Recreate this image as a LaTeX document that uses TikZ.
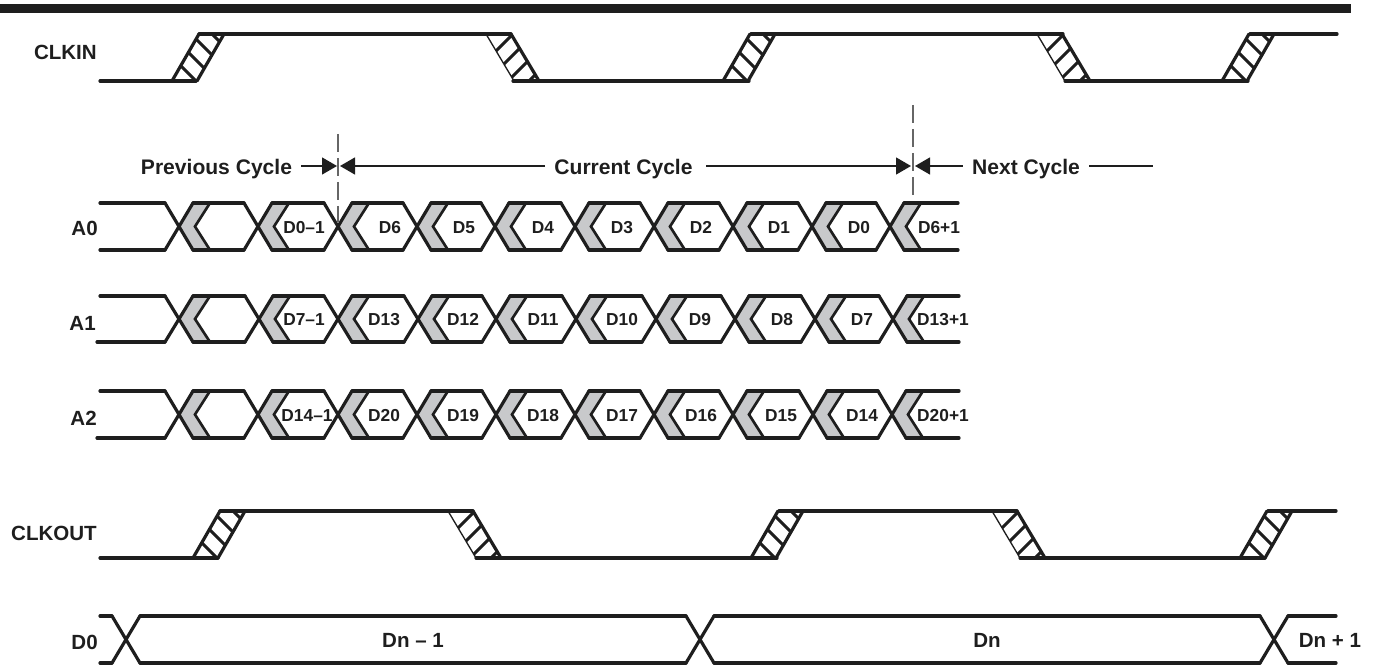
\documentclass[tikz,border=0pt]{standalone}
\usepackage{fontspec}
\setmainfont{Liberation Sans}
\usetikzlibrary{arrows.meta}
\definecolor{sigink}{HTML}{1E1E1E}
\definecolor{chevgray}{HTML}{C8C9CB}
\newcommand*\edgeup[3]{
    \begin{scope}
        \clip (#1,#3) -- (#1+25,#3) -- (#1+52,#2) -- (#1+27,#2) -- cycle;
        \foreach \off in {24,45,66,87}
            \draw[hatchline] (#1+\off,#3) -- (#1+\off-60,#3-60);
    \end{scope}
    \draw[sigline] (#1,#3) -- (#1+27,#2);
    \draw[sigline] (#1+25,#3) -- (#1+52,#2);
}
\newcommand*\edgedown[3]{
    \begin{scope}
        \clip (#1,#2) -- (#1+25,#2) -- (#1+53,#3) -- (#1+28,#3) -- cycle;
        \foreach \off in {27,48,69,90}
            \draw[hatchline] (#1+\off,#2) -- (#1+\off-60,#2+60);
    \end{scope}
    \draw[thinline] (#1,#2) -- (#1+28,#3);
    \draw[sigline] (#1+25,#2) -- (#1+53,#3);
}
\newcommand*\busrow[3]{
    \pgfmathsetmacro\busmid{(#1+#2)/2}
    \foreach \c [remember=\c as \p (initially 86)] in {#3} {
        \fill[chevgray] (\c,\busmid) -- (\c+14,#1) -- (\c+31,#1) -- (\c+16,\busmid) -- (\c+31,#2) -- (\c+14,#2) -- cycle;
        \draw[sigline] (\p+14,#1) -- (\c-14,#1);
        \draw[sigline] (\p+14,#2) -- (\c-14,#2);
        \draw[sigline] (\c-14,#1) -- (\c+14,#2);
        \draw[sigline] (\c-14,#2) -- (\c+14,#1);
        \draw[chevline] (\c+31,#1) -- (\c+16,\busmid) -- (\c+31,#2);
    }
}
\tikzset{
    sigline/.style={draw=sigink, line width=2.4pt, line cap=round},
    chevline/.style={draw=sigink, line width=2pt, line cap=butt},
    thinline/.style={draw=sigink, line width=1pt},
    hatchline/.style={draw=sigink, line width=2.2pt},
    dimline/.style={draw=sigink, line width=1pt, -{Triangle[length=11.25pt,width=12.75pt]}},
    plainline/.style={draw=sigink, line width=1pt},
    markline/.style={draw=black!60, line width=0.9pt, dash pattern=on 13.5pt off 4.5pt},
    siglabel/.style={anchor=base east, inner sep=0pt, text=sigink, font=\fontsize{15.4}{18}\selectfont\bfseries},
    cyclelabel/.style={anchor=base, inner ysep=0pt, inner xsep=7pt, outer sep=0pt, text=sigink, font=\fontsize{15.8}{18}\selectfont\bfseries},
    buslabel/.style={anchor=base, inner sep=0pt, text=sigink, font=\fontsize{15.4}{18}\selectfont\bfseries},
    datalabel/.style={anchor=base, inner sep=0pt, text=sigink, font=\fontsize{13}{15}\selectfont\bfseries},
}
\begin{document}
\begin{tikzpicture}[x=0.75pt, y=-0.75pt]
    \useasboundingbox (0,0) rectangle (1377,666);

    \fill[sigink] (0,4) rectangle (1351,13);

    % Clock in
    \node[siglabel] (clkin) at (97,60) {CLKIN};
    \draw[sigline] (100,81) -- (196,81);
    \draw[sigline] (199,34) -- (511,34);
    \draw[sigline] (513,81) -- (749,81);
    \draw[sigline] (751,34) -- (1063,34);
    \draw[sigline] (1065,81) -- (1248,81);
    \draw[sigline] (1250,34) -- (1337,34);
    \edgeup{172}{34}{81}
    \edgedown{486}{34}{81}
    \edgeup{723}{34}{81}
    \edgedown{1037}{34}{81}
    \edgeup{1222}{34}{81}

    % Cycle marks
    \coordinate (tipPrev) at (337,166);
    \coordinate (tipCurL) at (340,166);
    \coordinate (tipCurR) at (911,166);
    \coordinate (tipNext) at (915,166);
    \coordinate (curEnd) at (706,166);
    \coordinate (nextEnd) at (1153,166);
    \draw[markline] (338,134) -- (338,222);
    \draw[markline] (913,105) -- (913,197);
    \node[cyclelabel] (prev) at (216.5,175) {Previous Cycle};
    \node[cyclelabel] (cur) at (623.5,175) {Current Cycle};
    \node[cyclelabel] (next) at (1026,175) {Next Cycle};
    \draw[dimline] (prev.east |- tipPrev) -- (tipPrev);
    \draw[dimline] (cur.west |- tipCurL) -- (tipCurL);
    \draw[dimline] (curEnd) -- (tipCurR);
    \draw[dimline] (next.west |- tipNext) -- (tipNext);
    \draw[plainline] (next.east |- nextEnd) -- (nextEnd);

    % Data lines
    \node[siglabel] (a0) at (98,236) {A0};
    \busrow{203}{250}{179,258,338,417,495,575,654,733,812,890}
    \draw[sigline] (904,203) -- (958,203);
    \draw[sigline] (904,250) -- (958,250);
    \foreach \x/\t [count=\i] in {304/D0–1,390/D6,464/D5,543/D4,622/D3,701/D2,779/D1,859/D0,939/D6+1}
        \node[datalabel] (a0-\i) at (\x,233.5) {\t};

    \node[siglabel] (a1) at (96,331) {A1};
    \busrow{296}{342}{179,259,338,418,496,576,656,735,815,893}
    \draw[sigline] (907,296) -- (959,296);
    \draw[sigline] (907,342) -- (959,342);
    \draw[sigline] (97,342) -- (100,342);
    \foreach \x/\t [count=\i] in {304/D7–1,384/D13,463/D12,543/D11,622/D10,700/D9,782/D8,862/D7,943/D13+1}
        \node[datalabel] (a1-\i) at (\x,326) {\t};

    \node[siglabel] (a2) at (97,425) {A2};
    \busrow{391}{438}{179,258,338,417,496,575,654,733,813,892}
    \draw[sigline] (906,391) -- (959,391);
    \draw[sigline] (906,438) -- (959,438);
    \draw[sigline] (97,438) -- (100,438);
    \foreach \x/\t [count=\i] in {307/D14–1,384/D20,463/D19,543/D18,622/D17,701/D16,781/D15,862/D14,943/D20+1}
        \node[datalabel] (a2-\i) at (\x,421) {\t};

    % Clock out
    \node[siglabel] (clkout) at (97,540) {CLKOUT};
    \draw[sigline] (100,558) -- (218,558);
    \draw[sigline] (220,511) -- (473,511);
    \draw[sigline] (476,558) -- (777,558);
    \draw[sigline] (779,511) -- (1017,511);
    \draw[sigline] (1020,558) -- (1265,558);
    \draw[sigline] (1268,511) -- (1336,511);
    \edgeup{193}{511}{558}
    \edgedown{448}{511}{558}
    \edgeup{751}{511}{558}
    \edgedown{992}{511}{558}
    \edgeup{1240}{511}{558}

    % Output data
    \node[siglabel] (d0) at (98,649) {D0};
    \foreach \c [remember=\c as \p (initially 86)] in {126,700,1274} {
        \draw[sigline] (\p+14,616) -- (\c-14,616);
        \draw[sigline] (\p+14,663) -- (\c-14,663);
        \draw[sigline] (\c-14,616) -- (\c+14,663);
        \draw[sigline] (\c-14,663) -- (\c+14,616);
    }
    \draw[sigline] (1288,616) -- (1336,616);
    \draw[sigline] (1288,663) -- (1336,663);
    \node[buslabel] (dprev) at (413,647) {Dn – 1};
    \node[buslabel] (dcur) at (987,647) {Dn};
    \node[buslabel] (dnext) at (1330,647) {Dn + 1};
\end{tikzpicture}
\end{document}
